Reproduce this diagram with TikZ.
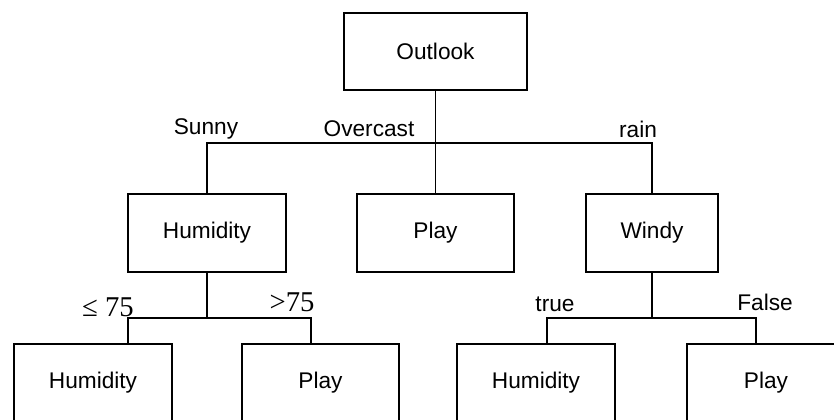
\documentclass[tikz,border=0pt]{standalone}
\usepackage{fontspec}
\setmainfont{Liberation Sans}
\newfontfamily\numfont{Liberation Serif}
\tikzset{
	attr/.style = {draw, line width=1.2pt, minimum height=58.5pt, inner sep=0pt, font=\fontsize{17}{20}\selectfont},
	edge/.style = {line width=1.1pt},
	lbl/.style = {inner sep=0pt, font=\fontsize{17}{20}\selectfont},
	cmp/.style = {inner sep=0pt, font=\numfont\fontsize{21.5}{24}\selectfont}
}
\begin{document}
\begin{tikzpicture}[x=0.75pt, y=-0.75pt]
				\useasboundingbox (0,0) rectangle (834,419);
				\node[attr, minimum width=137.25pt, minimum height=57.75pt] (outlook) at (435.5,51.5) {Outlook};
				\node[attr, minimum width=118.5pt] (humid) at (207,233) {Humidity};
				\node[attr, minimum width=117.75pt] (play) at (435.5,233) {Play};
				\node[attr, minimum width=99pt] (windy) at (652,233) {Windy};
				\node[attr, minimum width=118.5pt] (humidA) at (93,383) {Humidity};
				\node[attr, minimum width=117.75pt] (playA) at (320.5,383) {Play};
				\node[attr, minimum width=118.5pt] (humidB) at (536,383) {Humidity};
				\node[attr, minimum width=118.5pt] (playB) at (766,383) {Play};
				\coordinate (bus) at (0,143);
				\coordinate (hl) at (128,318);
				\coordinate (hr) at (311,318);
				\coordinate (wl) at (547,318);
				\coordinate (wr) at (756,318);
				\draw[edge] (outlook.south) -- (play.north);
				\draw[edge] (humid.north) |- (windy.north |- bus) -- (windy.north);
				\draw[edge] (humid.south) -- (humid.south |- hl);
				\draw[edge] (hl |- humidA.north) -- (hl) -- (hr) -- (hr |- playA.north);
				\draw[edge] (windy.south) -- (windy.south |- wl);
				\draw[edge] (wl |- humidB.north) -- (wl) -- (wr) -- (wr |- playB.north);
				\node[lbl] (sunny) at (206,129) {Sunny};
				\node[lbl] (overcast) at (369,129) {Overcast};
				\node[lbl] (rain) at (638,129) {rain};
				\node[cmp] (le) at (108,307) {≤ 75};
				\node[cmp] (gt) at (292,302) {>75};
				\node[lbl] (true) at (555,304) {true};
				\node[lbl] (false) at (765,302) {False};
\end{tikzpicture}
\end{document}
